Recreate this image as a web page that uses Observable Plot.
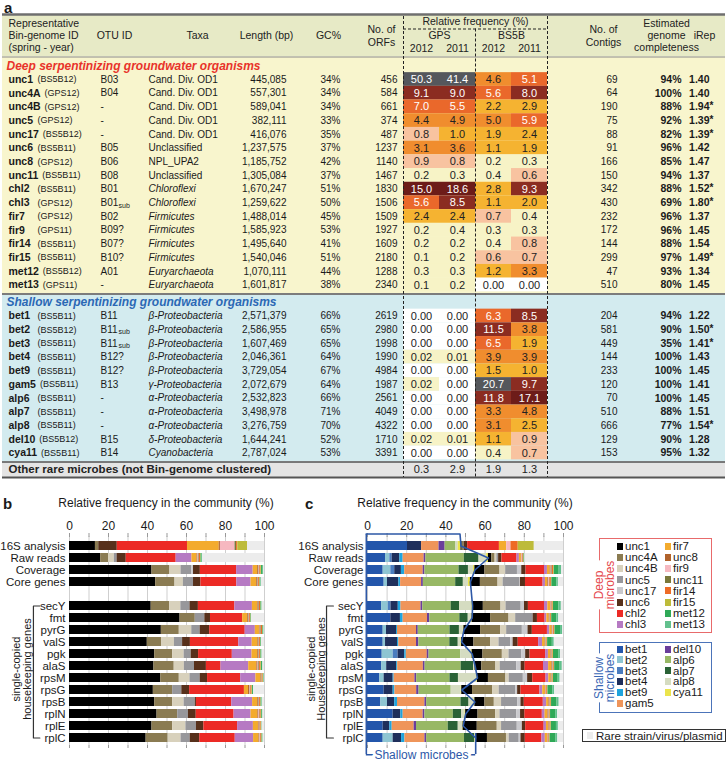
<!DOCTYPE html>
<html><head><meta charset="utf-8">
<script src="https://cdn.jsdelivr.net/npm/d3@7"></script>
<script src="https://cdn.jsdelivr.net/npm/@observablehq/plot@0.6"></script>
<style>
body{margin:0;background:#fff;font-family:Arial,"Liberation Sans",Helvetica,sans-serif;color:#1a1a1a;}
#root{position:relative;width:727px;height:765px;overflow:hidden;background:#fff;}
.plt{position:absolute;}
.lbl{position:absolute;font-weight:bold;font-size:15px;line-height:15px;}
.ttl{position:absolute;font-size:12px;white-space:nowrap;transform:translate(-50%,-50%);}
.box{position:absolute;box-sizing:border-box;}
.sw{position:absolute;width:6px;height:7px;}
.lt{position:absolute;font-size:11.5px;line-height:12px;white-space:nowrap;transform:translateY(-50%);}
.rot{position:absolute;font-size:12px;line-height:11px;text-align:center;white-space:nowrap;background:#fff;transform:translate(-50%,-50%) rotate(-90deg);}
</style></head><body><div id="root"></div>
<script>
// ---------------- Panel a : table data ----------------
const binIds = ["unc1","unc4A","unc4B","unc5","unc17","unc6","unc8","unc11","chl2","chl3","fir7","fir9","fir14","fir15","met12","met13",
  "bet1","bet2","bet3","bet4","bet9","gam5","alp6","alp7","alp8","del10","cya11"];
const springs = ["BS5B12","GPS12","GPS12","GPS12","BS5B12","BS5B11","GPS12","BS5B11","BS5B11","GPS12","GPS12","GPS11","BS5B11","BS5B11","BS5B12","GPS11",
  "BS5B11","BS5B12","BS5B11","BS5B11","BS5B11","BS5B11","BS5B11","BS5B11","BS5B11","BS5B12","BS5B11"];
const otuIds = ["B03","B04","-","-","-","B05","B06","B08","B01","B01","B02","B09?","B07?","B10?","A01","-",
  "B11","B11","B11","B12?","B12?","B13","-","-","-","B15","B14"];
const otuSubs = ["","","","","","","","","","sub","","","","","","",
  "","sub","sub","","","","","","","",""];
const taxa = ["Cand. Div. OD1","Cand. Div. OD1","Cand. Div. OD1","Cand. Div. OD1","Cand. Div. OD1","Unclassified","NPL_UPA2","Unclassified",
  "Chloroflexi","Chloroflexi","Firmicutes","Firmicutes","Firmicutes","Firmicutes","Euryarchaeota","Euryarchaeota",
  "β-Proteobacteria","β-Proteobacteria","β-Proteobacteria","β-Proteobacteria","β-Proteobacteria","γ-Proteobacteria",
  "α-Proteobacteria","α-Proteobacteria","α-Proteobacteria","δ-Proteobacteria","Cyanobacteria"];
const italicTaxa = ["Chloroflexi","Firmicutes","Euryarchaeota","β-Proteobacteria","γ-Proteobacteria","α-Proteobacteria","δ-Proteobacteria","Cyanobacteria"];
const lengths = [445085,557301,589041,382111,416076,1237575,1185752,1305084,1670247,1259622,1488014,1585923,1495640,1540046,1070111,1601817,
  2571379,2586955,1607469,2046361,3729054,2072679,2532823,3498978,3276759,1644241,2787024];
const gcPct = [34,34,34,33,35,37,42,37,51,50,45,53,41,51,44,38,66,65,65,64,67,64,66,71,70,52,53];
const orfs = [456,584,661,374,487,1237,1140,1467,1830,1506,1509,1927,1609,2180,1288,2340,2619,2980,1998,1990,4984,1987,2561,4049,4322,1710,3391];
const gps2012 = ["50.3","9.1","7.0","4.4","0.8","3.1","0.9","0.2","15.0","5.6","2.4","0.2","0.2","0.1","0.3","0.1",
  "0.00","0.00","0.00","0.02","0.00","0.02","0.00","0.00","0.00","0.02","0.00"];
const gps2011 = ["41.4","9.0","5.5","4.9","1.0","3.6","0.8","0.3","18.6","8.5","2.4","0.4","0.2","0.2","0.3","0.2",
  "0.00","0.00","0.00","0.01","0.00","0.00","0.00","0.00","0.00","0.01","0.00"];
const bs5b2012 = ["4.6","5.6","2.2","5.0","1.9","1.1","0.2","0.4","2.8","1.1","0.7","0.3","0.4","0.6","1.2","0.00",
  "6.3","11.5","6.5","3.9","1.5","20.7","11.8","3.3","3.1","1.1","0.4"];
const bs5b2011 = ["5.1","8.0","2.9","5.9","2.4","1.9","0.3","0.6","9.3","2.0","0.4","0.3","0.8","0.7","3.3","0.00",
  "8.5","3.8","1.9","3.9","1.0","9.7","17.1","4.8","2.5","0.9","0.7"];
const contigs = [69,64,190,75,88,91,166,150,342,430,232,172,144,299,47,510,204,581,449,144,233,120,70,510,666,129,153];
const completeness = [94,100,88,92,82,96,85,94,88,69,96,96,88,97,93,80,94,90,35,100,100,100,100,88,77,90,95];
const irep = ["1.40","1.40","1.94","1.39","1.39","1.42","1.47","1.37","1.52","1.80","1.37","1.45","1.54","1.49","1.34","1.45",
  "1.22","1.50","1.41","1.43","1.45","1.41","1.45","1.51","1.54","1.28","1.32"];
const irepStar = [0,0,1,1,1,0,0,0,1,1,0,0,0,1,0,0,0,1,1,0,0,0,0,0,1,0,0];
const rareFreq = ["0.3","2.9","1.9","1.3"];
const deepCount = 16;

// ---------------- Panels b / c : stacked bar data ----------------
const categories = ["16S analysis","Raw reads","Coverage","Core genes","secY","fmt","pyrG","valS","pgk","alaS","rpsM","rpsG","rpsB","rplN","rplE","rplC"];
const deepSpecies = ["unc1","unc4A","unc4B","unc5","unc17","unc6","chl2","chl3","fir7","unc8","fir9","unc11","fir14","fir15","met12","met13"];
const deepColors = ["#000000","#8a7b52","#d8d1bc","#97979b","#c9c9cd","#57301b","#ec2a25","#b67ac3","#f3ab2e","#b0622b","#f6b8c0","#7a783a","#ee6b26","#bdbb3a","#2fa957","#62c08d"];
const shallowSpecies = ["bet1","bet2","bet3","bet4","bet9","gam5","del10","alp6","alp7","alp8","cya11"];
const shallowColors = ["#2356ab","#8ec5d2","#4b7dbf","#1f2f5b","#1fa4dd","#ef955a","#6a3d9b","#98b865","#2a6236","#d5dcc1","#ebe44c"];
const rareColor = "#ececec";

const b16S      = [13.3,1.7,0,0,0,9.5,36.0,0,16.3,0.6,7.5,0.8,0.6,5.0,0,0];
const bRaw      = [16.0,4.0,3.0,1.4,0,4.7,25.6,8.1,2.6,0.5,0.4,0.3,0.6,0.3,0.5,0.2];
const bCoverage = [42.3,9.2,5.7,5.5,0.9,3.5,18.6,8.5,2.3,0.5,0.3,0.3,0.6,0.3,0.8,0.3];
const bCore     = [44.2,9.9,4.3,5.2,0,3.8,18.4,7.3,2.9,0.4,0.3,0.3,0.6,0.2,0.4,0.2];
const bSecY     = [41.9,9.5,5.7,4.7,0,4.3,18.7,9.0,2.6,0.4,0.3,0.3,0.6,0.2,0.4,0.2];
const bFmt      = [56.7,7.8,0,4.9,0,2.9,16.5,0,2.6,0.4,0.3,0.3,0.5,0.2,0.3,0];
const bPyrG     = [47.1,9.2,6.4,4.3,0,4.9,18.2,5.2,2.1,0.4,0.3,0.3,0.6,0.2,0.4,0.2];
const bValS     = [39.9,7.3,6.6,4.2,0,4.0,24.8,6.9,2.9,0.4,0.2,0.2,0.5,0.2,0.3,0.1];
const bPgk      = [43.7,9.2,5.9,3.6,0,3.8,17.3,10.1,2.9,0.4,0.3,0.3,0.5,0.2,0.4,0.2];
const bAlaS     = [43.3,10.4,5.2,5.2,0,6.1,7.5,14.2,4.2,0.6,0.4,0.4,0.7,0.3,0.5,0.2];
const bRpsM     = [46.8,9.5,5.5,5.2,0,3.8,17.0,7.8,2.6,0.3,0.2,0.2,0.4,0.2,0.3,0.1];
const bRpsG     = [43.0,9.9,0,4.7,0,4.0,28.1,0,2.1,0.5,0.4,0.3,0.6,0.3,0.5,0];
const bRpsB     = [43.7,9.2,5.9,5.7,0,0.6,18.1,10.7,2.6,0.4,0.3,0.3,0.6,0.2,0.4,0.2];
const bRplN     = [44.9,10.6,0,5.5,0,4.0,19.4,8.7,3.5,0.5,0.3,0.3,0.6,0.3,0.5,0.1];
const bRplE     = [42.3,10.6,6.8,5.4,0,3.8,17.3,8.1,2.6,0.4,0.3,0.2,0.5,0.2,0.2,0.1];
const bRplC     = [39.3,11.3,6.6,4.7,0,4.9,18.2,9.4,2.8,0.4,0.3,0.2,0.5,0.2,0.4,0.1];

const c16S      = [20.4,0,0,7.2,0,8.9,3.1,5.5,0,1.2,1.4,  0.6,1.0,0,0,0,1.8,16.2,0,3.7,0,2.2,0,3.7,8.2,0,0];
const cRaw      = [9.2,2.2,1.2,3.9,1.7,10.7,0.9,19.6,7.5,3.9,0.9,  1.7,1.7,0.9,0.9,0,1.7,7.7,1.2,1.0,0.3,0.3,0.2,0.4,0.2,0.3,0.1];
const cCoverage = [8.0,3.9,2.0,3.4,1.7,9.4,0.9,17.4,4.8,2.6,0.7,  5.1,7.7,2.9,6.0,2.2,2.2,9.4,1.5,1.4,0.5,0.4,0.3,0.6,0.3,2.5,1.2];
const cCore     = [8.5,1.7,0,5.8,0.9,10.7,0.9,16.5,3.9,2.6,1.0,  5.1,9.0,2.6,8.5,0.3,2.6,9.0,1.2,1.2,0.4,0.4,0.3,0.7,0.3,2.5,0.8];
const cSecY     = [7.2,3.4,1.4,3.7,1.4,10.2,0.9,14.5,4.3,6.3,0.3,  5.5,9.0,2.6,7.7,1.7,2.0,8.2,1.7,1.4,0.3,0.3,0.2,0.5,0.2,2.8,1.2];
const cFmt      = [11.9,0,0,4.9,1.4,12.4,1.2,15.3,4.3,1.7,0.3,  9.4,9.4,3.4,8.9,0,2.2,3.9,0.9,1.2,0.3,0.2,0.2,0.4,0.2,2.6,1.0];
const cPyrG     = [8.0,1.7,0,5.1,0.5,9.7,0.9,16.2,4.8,2.0,0.3,  8.5,10.2,3.1,8.0,2.9,2.2,7.7,1.2,1.2,0.3,0.3,0.2,0.5,0.2,2.8,1.1];
const cValS     = [8.0,1.2,0,6.1,0.7,9.0,1.2,15.8,4.3,1.4,0.3,  6.3,8.5,4.3,6.0,1.2,2.6,10.4,2.0,1.4,0.3,0.2,0.2,0.3,0.2,2.4,1.0];
const cPgk      = [7.5,5.6,2.5,3.4,0.8,10.7,0.9,16.2,0,5.5,0.3,  5.5,9.9,3.4,6.5,2.0,2.2,8.0,1.4,1.2,0.3,0.3,0.2,0.4,0.2,2.6,1.0];
const cAlaS     = [7.2,2.6,0,5.1,0.5,13.1,0.9,18.4,6.3,0.5,0.3,  3.4,7.2,2.2,8.5,2.2,2.0,9.4,2.6,1.7,0.3,0.3,0.2,0.4,0.2,2.8,1.1];
const cRpsM     = [6.3,2.2,0,4.6,0.5,10.6,0.9,17.0,4.3,9.4,0.3,  5.6,8.9,1.7,7.2,2.2,2.6,6.8,1.4,1.2,0.3,0.2,0.2,0.3,0.2,2.4,1.0];
const cRpsG     = [8.5,0,0,4.6,0.9,11.1,1.2,16.4,0,5.1,0.3,  5.5,10.2,3.4,8.5,0.9,1.7,9.7,1.4,1.4,0.3,0.2,0.2,0.4,0.2,2.4,1.0];
const cRpsB     = [6.8,3.4,0,3.7,1.4,14.0,0.9,17.5,4.1,2.7,0.3,  5.1,4.8,3.7,8.2,1.7,1.7,9.7,1.7,1.2,0.3,0.2,0.2,0.4,0.2,2.8,1.1];
const cRplN     = [13.1,0,0,3.9,1.2,10.2,0.9,14.5,4.3,1.7,0.3,  6.3,9.0,2.2,8.5,2.0,2.2,8.9,1.4,1.4,0.3,0.3,0.2,0.4,0.2,2.6,1.0];
const cRplE     = [8.0,0,0,3.4,1.2,11.2,1.2,16.2,5.1,2.2,0.3,  7.2,10.2,2.2,8.0,2.6,1.7,9.4,1.2,1.2,0.3,0.2,0.2,0.4,0.2,2.6,1.0];
const cRplC     = [8.0,5.1,0,4.3,1.7,10.2,0.9,19.3,5.1,0.3,0.3,  6.0,9.7,1.4,5.1,0.9,2.2,8.5,1.7,1.2,0.3,0.2,0.2,0.4,0.2,2.8,1.1];

const bValues = [b16S,bRaw,bCoverage,bCore,bSecY,bFmt,bPyrG,bValS,bPgk,bAlaS,bRpsM,bRpsG,bRpsB,bRplN,bRplE,bRplC];
const cValues = [c16S,cRaw,cCoverage,cCore,cSecY,cFmt,cPyrG,cValS,cPgk,cAlaS,cRpsM,cRpsG,cRpsB,cRplN,cRplE,cRplC];

// ---------------- layout / styles ----------------
const FONT = "Arial, 'Liberation Sans', Helvetica, sans-serif";
const root = document.getElementById("root");
const T = {rowH: 13.7, deepY0: 79, shallowY0: 315.5, name: 8, spring: 37, otu: 100, taxa: 148, len: 286, gc: 340, orf: 397,
  cells: [[403,439],[439,475],[475,511],[511,547]], contig: 617, comp: 681, irep: 709};
const heatColors = ["#ffffff","#f7f3c6","#f8c3a0","#f5b331","#f08d2e","#ea682b","#8b2c21","#6d1c19","#55575c"];

function addDiv(cls, css, html) {
  const d = document.createElement("div");
  d.className = cls; Object.assign(d.style, css); if (html != null) d.innerHTML = html;
  root.appendChild(d); return d;
}
const ctx = document.createElement("canvas").getContext("2d");
ctx.font = "bold 10.5px Arial, 'Liberation Sans'";

// ---------------- Panel a ----------------
const rows = binIds.map((id, i) => ({
  id, spring: springs[i], otu: otuIds[i], sub: otuSubs[i], taxon: taxa[i], italic: italicTaxa.includes(taxa[i]),
  len: lengths[i], gc: gcPct[i], orf: orfs[i], contig: contigs[i], comp: completeness[i], irep: irep[i], star: irepStar[i],
  springX: Math.max(T.spring, T.name + ctx.measureText(id).width + 4),
  y: i < deepCount ? T.deepY0 + i * T.rowH : T.shallowY0 + (i - deepCount) * T.rowH
}));
const freqCols = [gps2012, gps2011, bs5b2012, bs5b2011];
const cells = freqCols.flatMap((vals, c) => rows.map((r, i) => ({
  x1: T.cells[c][0], x2: T.cells[c][1], xc: (T.cells[c][0] + T.cells[c][1]) / 2,
  y1: r.y - T.rowH / 2, y2: r.y + T.rowH / 2, y: r.y, label: vals[i], v: +vals[i]
})));
const rareCells = rareFreq.map((s, c) => ({xc: (T.cells[c][0] + T.cells[c][1]) / 2, y: 469, label: s}));

const headerLeft = [
  {x: 8, y: 23, t: "Representative"}, {x: 8, y: 35, t: "Bin-genome ID"}, {x: 8, y: 47, t: "(spring - year)"}
];
const headerMid = [
  {x: 114, y: 35, t: "OTU ID"}, {x: 197, y: 35, t: "Taxa"}, {x: 266, y: 35, t: "Length (bp)"}, {x: 328, y: 35, t: "GC%"},
  {x: 381, y: 29, t: "No. of"}, {x: 381, y: 42, t: "ORFs"},
  {x: 475, y: 21.5, t: "Relative frequency (%)"}, {x: 439, y: 35.5, t: "GPS"}, {x: 511, y: 35.5, t: "BS5B"},
  {x: 421, y: 48.5, t: "2012"}, {x: 457, y: 48.5, t: "2011"}, {x: 493, y: 48.5, t: "2012"}, {x: 529, y: 48.5, t: "2011"},
  {x: 603, y: 29, t: "No. of"}, {x: 603, y: 42, t: "Contigs"},
  {x: 666, y: 23, t: "Estimated"}, {x: 666, y: 35, t: "genome"}, {x: 666, y: 47, t: "completeness"},
  {x: 704, y: 35, t: "iRep"}
];

const tablePlot = Plot.plot({
  width: 727, height: 482, margin: 0,
  x: {type: "identity", axis: null}, y: {type: "identity", axis: null},
  color: {type: "threshold", domain: [0.005, 0.5, 1, 3, 5.05, 8, 15, 20], range: heatColors},
  style: {fontFamily: FONT, fontSize: "10px", color: "#1a1a1a", background: "transparent"},
  marks: [
    Plot.rect([0], {x1: 2, x2: 725, y1: 14, y2: 56.5, fill: "#e7eac6"}),
    Plot.rect([0], {x1: 2, x2: 725, y1: 56.5, y2: 293.5, fill: "#f8f5cd"}),
    Plot.rect([0], {x1: 2, x2: 725, y1: 293.5, y2: 461.5, fill: "#d3ebef"}),
    Plot.rect([0], {x1: 2, x2: 725, y1: 461.5, y2: 477, fill: "#e4e4e4"}),
    Plot.rect(cells, {x1: "x1", x2: "x2", y1: "y1", y2: "y2", fill: "v"}),
    Plot.ruleY([14], {x1: 2, x2: 725, stroke: "#6f6f6f", strokeWidth: 2.5}),
    Plot.ruleY([56.5], {x1: 2, x2: 725, stroke: "#8c8c8c", strokeWidth: 1}),
    Plot.ruleY([293.5], {x1: 2, x2: 725, stroke: "#7c7c7c", strokeWidth: 2}),
    Plot.ruleY([461.5], {x1: 2, x2: 725, stroke: "#555", strokeWidth: 1.5}),
    Plot.ruleY([477], {x1: 2, x2: 725, stroke: "#555", strokeWidth: 2}),
    Plot.ruleX([403, 547], {y1: 16, y2: 477, stroke: "#222", strokeDasharray: "3,2"}),
    Plot.ruleX([475], {y1: 28.5, y2: 477, stroke: "#222", strokeDasharray: "3,2"}),
    Plot.ruleY([28.5], {x1: 403, x2: 547, stroke: "#222", strokeDasharray: "3,2"}),
    Plot.text(headerLeft, {x: "x", y: "y", text: "t", textAnchor: "start", fontSize: 10.5, fill: "#222"}),
    Plot.text(headerMid, {x: "x", y: "y", text: "t", textAnchor: "middle", fontSize: 10.5, fill: "#222"}),
    Plot.text(["Deep serpentinizing groundwater organisms"], {x: 6, y: 65.5, text: d => d, textAnchor: "start", fontWeight: "bold", fontStyle: "italic", fontSize: 12, fill: "#e8332a"}),
    Plot.text(["Shallow serpentinizing groundwater organisms"], {x: 6, y: 302, text: d => d, textAnchor: "start", fontWeight: "bold", fontStyle: "italic", fontSize: 12, fill: "#2b68b5"}),
    Plot.text(["Other rare microbes (not Bin-genome clustered)"], {x: 8, y: 469, text: d => d, textAnchor: "start", fontWeight: "bold", fontSize: 11.5, fill: "#222"}),
    Plot.text(rows, {x: T.name, y: "y", text: "id", textAnchor: "start", fontWeight: "bold", fontSize: 10.5}),
    Plot.text(rows, {x: "springX", y: "y", text: d => `(${d.spring})`, textAnchor: "start", fontSize: 9}),
    Plot.text(rows, {x: T.otu, y: "y", text: "otu", textAnchor: "start"}),
    Plot.text(rows.filter(d => d.sub), {x: T.otu, y: "y", dx: 18, dy: 2.5, text: "sub", textAnchor: "start", fontSize: 7}),
    Plot.text(rows.filter(d => !d.italic), {x: T.taxa, y: "y", text: "taxon", textAnchor: "start"}),
    Plot.text(rows.filter(d => d.italic), {x: T.taxa, y: "y", text: "taxon", textAnchor: "start", fontStyle: "italic"}),
    Plot.text(rows, {x: T.len, y: "y", text: d => d3.format(",")(d.len), textAnchor: "end"}),
    Plot.text(rows, {x: T.gc, y: "y", text: d => d.gc + "%", textAnchor: "end"}),
    Plot.text(rows, {x: T.orf, y: "y", text: d => String(d.orf), textAnchor: "end"}),
    Plot.text(cells.filter(d => d.v <= 5.05), {x: "xc", y: "y", text: "label", fontSize: 11, fill: "#222"}),
    Plot.text(cells.filter(d => d.v > 5.05), {x: "xc", y: "y", text: "label", fontSize: 11, fill: "#ffffff"}),
    Plot.text(rareCells, {x: "xc", y: "y", text: "label", fontSize: 11, fill: "#222"}),
    Plot.text(rows, {x: T.contig, y: "y", text: d => String(d.contig), textAnchor: "end"}),
    Plot.text(rows, {x: T.comp, y: "y", text: d => d.comp + "%", textAnchor: "end", fontWeight: "bold", fontSize: 10.5}),
    Plot.text(rows, {x: T.irep, y: "y", text: "irep", textAnchor: "end", fontWeight: "bold", fontSize: 10.5}),
    Plot.text(rows.filter(d => d.star), {x: T.irep, y: "y", text: () => "*", textAnchor: "start", fontWeight: "bold", dy: -1})
  ]
});
tablePlot.classList.add("plt");
Object.assign(tablePlot.style, {left: "0px", top: "0px"});
root.appendChild(tablePlot);
addDiv("lbl", {left: "4px", top: "0px"}, "a");

// ---------------- Panels b and c ----------------
const PANEL_TOP = 490, PH = 272, R0 = 34.66, R1 = 269.2, GRID0 = 46, GRID1 = 255;
const HALF_BAND = 12.2 * 0.78 / 2;
const yDomain = ["·top", ...categories.slice(0, 4), "·gap", ...categories.slice(4), "·bottom"];

function segments(values, species) {
  return categories.flatMap((cat, i) => {
    let acc = 0;
    const segs = [];
    species.forEach((sp, j) => {
      const v = values[i][j];
      if (v > 0) segs.push({cat, sp, x1: acc, x2: acc + v});
      acc += v;
    });
    segs.push({cat, sp: "rare", x1: acc, x2: 100});
    return segs;
  });
}

function panel({values, species, colors, left, width, marginLeft, marginRight, bracketX, tickX, textX, hkText, extra = []}) {
  const p = Plot.plot({
    width, height: PH, marginLeft, marginRight, marginTop: R0, marginBottom: PH - R1,
    x: {domain: [0, 100]},
    y: {domain: yDomain, padding: 0.22},
    color: {domain: [...species, "rare"], range: [...colors, rareColor]},
    style: {fontFamily: FONT, fontSize: "11.5px", color: "#1a1a1a", background: "transparent", overflow: "visible"},
    marks: [
      Plot.ruleX(d3.range(0, 101, 10), {stroke: "#cfcfcf", strokeWidth: 1, insetTop: GRID0 - R0, insetBottom: R1 - GRID1}),
      Plot.barX(segments(values, species), {x1: "x1", x2: "x2", y: "cat", fill: "sp"}),
      Plot.axisX({anchor: "top", ticks: d3.range(0, 101, 10), tickFormat: d => d % 20 === 0 ? d : "", tickSize: 4, tickPadding: 3, label: null, stroke: "#999", dy: GRID0 - R0, fontSize: 12}),
      Plot.axisX({anchor: "bottom", ticks: d3.range(0, 101, 10), tickFormat: () => "", tickSize: 3, label: null, stroke: "#999", dy: GRID1 - R1}),
      Plot.axisY({tickSize: 0, tickPadding: 4, label: null, tickFormat: d => d.startsWith("·") ? "" : d}),
      Plot.line([{x: tickX, y: "secY"}, {x: bracketX, y: "secY"}, {x: bracketX, y: "rplC"}, {x: tickX, y: "rplC"}], {x: "x", y: "y", stroke: "#333", strokeWidth: 1.2}),
      Plot.text([hkText], {x: textX, y: () => "alaS", dy: 3, text: d => d, rotate: -90, fontSize: 11, lineHeight: 0.95}),
      ...extra
    ]
  });
  p.classList.add("plt");
  Object.assign(p.style, {left: left + "px", top: PANEL_TOP + "px"});
  root.appendChild(p);
  return p;
}

panel({values: bValues, species: deepSpecies, colors: deepColors, left: 0, width: 280, marginLeft: 69, marginRight: 16,
  bracketX: -18.5, tickX: -15.2, textX: -24.2, hkText: "single-copied\nhousekeeping genes"});

const shallowSums = cValues.map(v => d3.sum(v.slice(0, shallowSpecies.length)));
const lastSum = shallowSums[shallowSums.length - 1];
const linePts = [
  {x: -0.6, y: "·top"}, {x: shallowSums[0] - 0.5, y: "·top"},
  ...categories.map((c, i) => ({x: shallowSums[i], y: c}))
];
const BLUE = "#2d58a7";
panel({values: cValues, species: [...shallowSpecies, ...deepSpecies], colors: [...shallowColors, ...deepColors],
  left: 290, width: 285, marginLeft: 77, marginRight: 12,
  bracketX: -20.9, tickX: -17.4, textX: -26, hkText: "single-copied\nHousekeeping genes",
  extra: [
    Plot.line(linePts, {x: "x", y: "y", stroke: BLUE, strokeWidth: 1.6}),
    Plot.ruleX([-0.6], {y1: () => "·top", y2: () => "·bottom", insetTop: HALF_BAND, stroke: BLUE, strokeWidth: 1.6}),
    Plot.ruleX([lastSum], {y1: () => "rplC", y2: () => "·bottom", stroke: BLUE, strokeWidth: 1.6}),
    Plot.ruleY(["·bottom"], {y: d => d, x1: -0.6, x2: lastSum, dy: HALF_BAND, stroke: BLUE, strokeWidth: 1.6}),
    Plot.text(["Shallow microbes"], {x: 27.5, y: () => "·bottom", dy: HALF_BAND, text: d => d, fill: BLUE, stroke: "white", strokeWidth: 6, fontSize: 12})
  ]});

addDiv("lbl", {left: "3px", top: "496px"}, "b");
addDiv("lbl", {left: "305px", top: "496px"}, "c");
addDiv("ttl", {left: "166px", top: "503px"}, "Relative frequency in the community (%)");
addDiv("ttl", {left: "465px", top: "503px"}, "Relative frequency in the community (%)");

// ---------------- Legend ----------------
function legendBox({top, height, border, title, titleColor, titleCy, col1, col2, y0, dy, colors, names}) {
  addDiv("box", {left: "599px", top: top + "px", width: "113px", height: height + "px", border: "1px solid " + border});
  [[col1, 617, 625], [col2, 665, 673]].forEach(([list, sx, tx]) => list.forEach((name, k) => {
    const y = y0 + k * dy;
    addDiv("sw", {left: sx + "px", top: (y - 3.5) + "px", background: colors[names.indexOf(name)]});
    addDiv("lt", {left: tx + "px", top: y + "px"}, name);
  }));
  addDiv("rot", {left: "605px", top: titleCy + "px", color: titleColor}, title);
}
legendBox({top: 538, height: 95, border: "#e86a6b", title: "Deep<br>microbes", titleColor: "#e5484d", titleCy: 585,
  col1: ["unc1","unc4A","unc4B","unc5","unc17","unc6","chl2","chl3"], col2: ["fir7","unc8","fir9","unc11","fir14","fir15","met12","met13"],
  y0: 546, dy: 11.2, colors: deepColors, names: deepSpecies});
legendBox({top: 642, height: 71, border: "#4c74b9", title: "Shallow<br>microbes", titleColor: "#3a68b5", titleCy: 678,
  col1: ["bet1","bet2","bet3","bet4","bet9","gam5"], col2: ["del10","alp6","alp7","alp8","cya11"],
  y0: 649, dy: 10.8, colors: shallowColors, names: shallowSpecies});
addDiv("box", {left: "582px", top: "729px", width: "144px", height: "13px", border: "1px solid #333"});
addDiv("sw", {left: "587px", top: "732px", background: rareColor});
addDiv("lt", {left: "596px", top: "735.5px"}, "Rare strain/virus/plasmid");
</script></body></html>
